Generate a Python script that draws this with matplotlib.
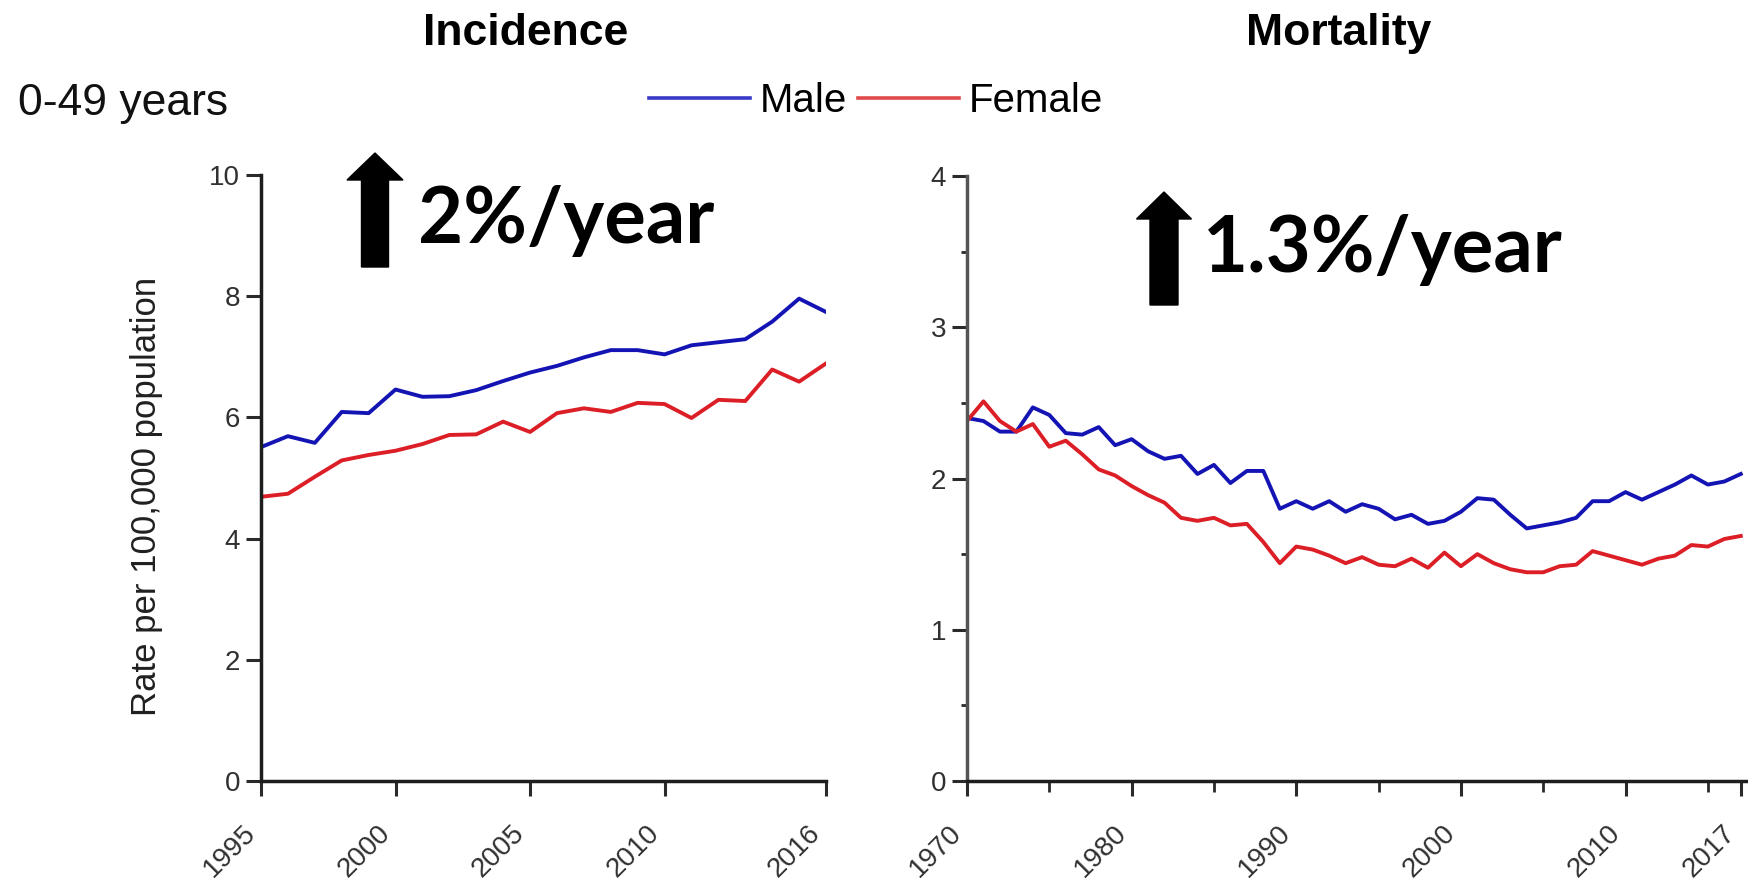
import numpy as np
import matplotlib
matplotlib.use("Agg")
from matplotlib import pyplot as plt
from matplotlib.lines import Line2D
from matplotlib.patches import FancyArrow
from matplotlib.ticker import MultipleLocator

plt.rcParams['font.family'] = ['Liberation Sans', 'DejaVu Sans']

# incidence, ages 0-49, per 100,000
inc_years = np.arange(1995, 2017)
inc_male = [5.51, 5.69, 5.58, 6.09, 6.07, 6.46, 6.34, 6.35, 6.45, 6.60, 6.74,
            6.85, 6.99, 7.11, 7.11, 7.04, 7.19, 7.24, 7.29, 7.58, 7.96, 7.74]
inc_female = [4.69, 4.74, 5.02, 5.29, 5.38, 5.45, 5.56, 5.71, 5.72, 5.93, 5.76,
              6.07, 6.15, 6.09, 6.24, 6.22, 5.99, 6.29, 6.27, 6.79, 6.59, 6.89]

# mortality, per 100,000
mort_years = np.arange(1970, 2018)
mort_male = [2.40, 2.38, 2.31, 2.31, 2.47, 2.42, 2.30, 2.29, 2.34, 2.22,
             2.26, 2.18, 2.13, 2.15, 2.03, 2.09, 1.97, 2.05, 2.05, 1.80,
             1.85, 1.80, 1.85, 1.78, 1.83, 1.80, 1.73, 1.76, 1.70, 1.72,
             1.78, 1.87, 1.86, 1.76, 1.67, 1.69, 1.71, 1.74, 1.85, 1.85,
             1.91, 1.86, 1.91, 1.96, 2.02, 1.96, 1.98, 2.03]
mort_female = [2.38, 2.51, 2.38, 2.31, 2.36, 2.21, 2.25, 2.16, 2.06, 2.02,
               1.95, 1.89, 1.84, 1.74, 1.72, 1.74, 1.69, 1.70, 1.58, 1.44,
               1.55, 1.53, 1.49, 1.44, 1.48, 1.43, 1.42, 1.47, 1.41, 1.51,
               1.42, 1.50, 1.44, 1.40, 1.38, 1.38, 1.42, 1.43, 1.52, 1.49,
               1.46, 1.43, 1.47, 1.49, 1.56, 1.55, 1.60, 1.62]

inc_xticks = [1995, 2000, 2005, 2010, 2016]
mort_xticks = [1970, 1980, 1990, 2000, 2010, 2017]

blue = '#1414b4'
red = '#dc1e26'

fig = plt.figure(figsize=(17.49, 8.83), dpi=100)
W, H = 1749, 883

ax1 = fig.add_axes([261 / W, 1 - 781 / H, 565 / W, 606 / H])
ax2 = fig.add_axes([967 / W, 1 - 781 / H, 782 / W, 605 / H])

ax1.plot(inc_years, inc_male, color=blue, lw=2.8)
ax1.plot(inc_years, inc_female, color=red, lw=2.8)
ax2.plot(mort_years, mort_male, color=blue, lw=2.8)
ax2.plot(mort_years, mort_female, color=red, lw=2.8)

ax1.set_xlim(1995, 2016)
ax1.set_ylim(0, 10)
ax1.set_xticks(inc_xticks)
ax1.set_yticks(np.arange(0, 11, 2))

ax2.set_xlim(1970, 2017.5)
ax2.set_ylim(0, 4)
ax2.set_xticks(mort_xticks)
ax2.set_yticks(np.arange(0, 5, 1))
ax2.xaxis.set_minor_locator(MultipleLocator(5))
ax2.yaxis.set_minor_locator(MultipleLocator(0.5))

for ax in (ax1, ax2):
    for s in ('top', 'right'):
        ax.spines[s].set_visible(False)
    ax.spines['bottom'].set_linewidth(2.5)
    ax.spines['left'].set_linewidth(2.5)
    ax.spines['bottom'].set_color('#1e1e1e')
    ax.tick_params(which='major', direction='out', length=11, width=2.2,
                   color='#2a2a2a', labelsize=20, labelcolor='#303030', pad=4)
    ax.tick_params(axis='x', which='major', pad=17)
    for lab in ax.get_xticklabels():
        lab.set_rotation(45)
        lab.set_ha('right')

ax1.spines['left'].set_color('#1e1e1e')
ax2.spines['left'].set_color('#555555')
ax2.tick_params(axis='x', which='minor', direction='out', length=8, width=2, color='#2a2a2a')
ax2.tick_params(axis='y', which='minor', direction='out', length=4, width=2, color='#2a2a2a')

ax1.set_ylabel('Rate per 100,000 population', fontsize=25, color='#202020')
ax1.yaxis.set_label_coords(-0.174, 0.47)

# legend
handles = [Line2D([], [], color='#3a3ac8', lw=2.6),
           Line2D([], [], color='#e04a4a', lw=2.6)]
fig.legend(handles, ['Male', 'Female'], ncol=2, frameon=False, fontsize=29,
           loc='center left', bbox_to_anchor=(649 / W, 1 - 101 / H),
           borderpad=0, borderaxespad=0, handlelength=2.5,
           handletextpad=0.25, columnspacing=0.27)

# overlay for titles, notes and arrows (pixel coordinates)
ov = fig.add_axes([0, 0, 1, 1], zorder=5)
ov.set_xlim(0, W)
ov.set_ylim(H, 0)
ov.set_axis_off()
ov.patch.set_alpha(0)

ov.text(526, 45, 'Incidence', ha='center', va='baseline', fontsize=32, fontweight='bold')
ov.text(1339, 45, 'Mortality', ha='center', va='baseline', fontsize=32, fontweight='bold')
ov.text(18, 115, '0-49 years', ha='left', va='baseline', fontsize=32, color='#111111')

ov.add_patch(FancyArrow(375, 267, 0, -114, width=27, head_width=56, head_length=27,
                        length_includes_head=True, color='black'))
ov.add_patch(FancyArrow(1164, 305, 0, -113, width=28, head_width=55, head_length=27,
                        length_includes_head=True, color='black'))
ov.text(418, 243, '2%/year', ha='left', va='baseline', fontsize=56,
        fontweight='bold', family=['Lato', 'Liberation Sans'])
ov.text(1203, 272, '1.3%/year', ha='left', va='baseline', fontsize=56,
        fontweight='bold', family=['Lato', 'Liberation Sans'])

fig.savefig('out.png', dpi=100)
